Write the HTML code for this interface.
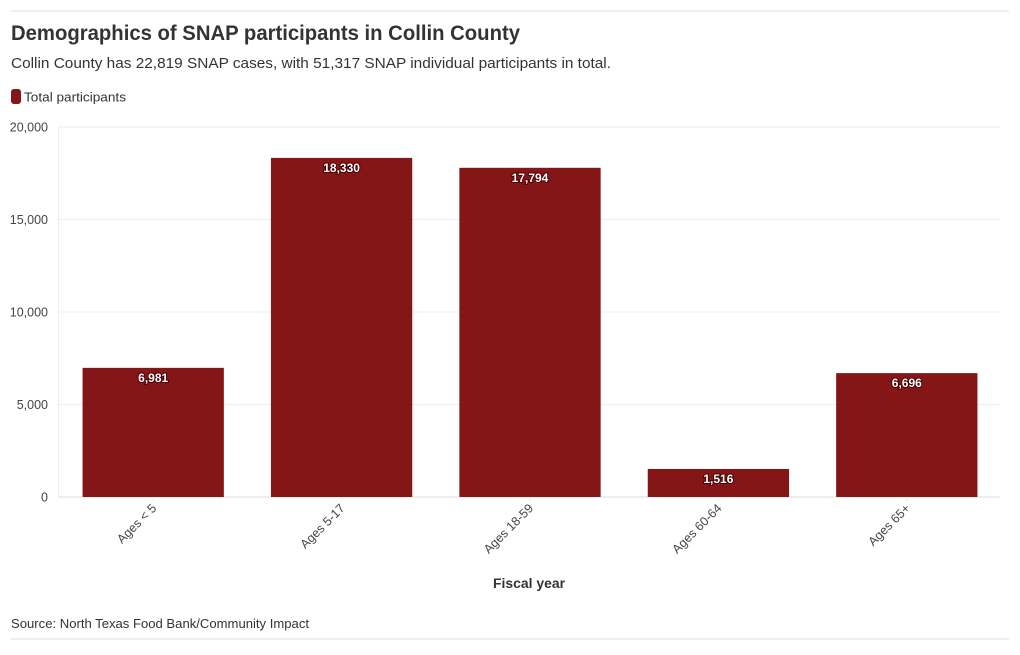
<!DOCTYPE html>
<html><head><meta charset="utf-8"><style>
html,body{margin:0;padding:0;background:#fff;}
svg text{font-family:"Liberation Sans",sans-serif;}
</style></head><body>
<svg width="1020" height="650" viewBox="0 0 1020 650">
<line x1="11" y1="11" x2="1009" y2="11" stroke="#ddd"/>
<text x="11" y="40" font-size="21" font-weight="bold" fill="#333" textLength="509" lengthAdjust="spacingAndGlyphs">Demographics of SNAP participants in Collin County</text>
<text x="11" y="68" font-size="15" fill="#333" textLength="600" lengthAdjust="spacingAndGlyphs">Collin County has 22,819 SNAP cases, with 51,317 SNAP individual participants in total.</text>
<g>
<rect x="11" y="89" width="10" height="15" rx="3" fill="#841617"/>
<text x="24" y="101.5" font-size="13" fill="#333" textLength="102" lengthAdjust="spacingAndGlyphs">Total participants</text>
</g>
<g id="grid"></g>
<g id="bars"></g>
<g id="xlabels"></g>
<text x="529" y="588" font-size="14" font-weight="bold" fill="#333" text-anchor="middle" textLength="72" lengthAdjust="spacingAndGlyphs">Fiscal year</text>
<text x="11" y="628" font-size="13" fill="#333" textLength="298" lengthAdjust="spacingAndGlyphs">Source: North Texas Food Bank/Community Impact</text>
<line x1="11" y1="639" x2="1009" y2="639" stroke="#ddd"/>
</svg>
<script>
const categories = ["Ages < 5","Ages 5-17","Ages 18-59","Ages 60-64","Ages 65+"];
const values = [6981, 18330, 17794, 1516, 6696];
const yTicks = [0, 5000, 10000, 15000, 20000];
const yTickLabels = ["0","5,000","10,000","15,000","20,000"];

const NS = "http://www.w3.org/2000/svg";
const X0 = 58, X1 = 1000, Y0 = 497, Y1 = 127, YMAX = 20000;
const band = (X1 - X0) / categories.length;
const pad = 0.25;
function y(v){ return Y0 - (v / YMAX) * (Y0 - Y1); }
function x(i){ return X0 + i * band; }
function mk(tag, attrs, parent){ const e = document.createElementNS(NS, tag); for (const k in attrs) e.setAttribute(k, attrs[k]); parent.appendChild(e); return e; }

const grid = document.getElementById("grid");
yTicks.forEach((t, i) => {
  const l = mk("line", {x1: X0, x2: X1, y1: y(t), y2: y(t), stroke: i === 0 ? "#ddd" : "#eee"}, grid);
  
  
  const tx = mk("text", {x: 48, y: y(t) + 4.5, "font-size": 12.5, fill: "#444", "text-anchor": "end"}, grid);
  tx.textContent = yTickLabels[i];
  
  
});
const ax = mk("line", {x1: X0 + 0.5, x2: X0 + 0.5, y1: Y1, y2: Y0, stroke: "#eee"}, grid);



const bars = document.getElementById("bars");
const xl = document.getElementById("xlabels");
values.forEach((v, i) => {
  const bx = x(i) + band * pad / 2 + 1, bw = band * (1 - pad);
  const r = mk("rect", {x: bx, y: y(v), width: bw, height: Y0 - y(v), fill: "#841617"}, bars);
  
  
  const cx = bx + bw / 2;
  const lb = mk("text", {x: cx, y: y(v) + 14, "font-size": 12, "font-weight": "bold", fill: "#fff", "text-anchor": "middle", stroke: "#4a0000", "stroke-width": 2, "paint-order": "stroke"}, bars);
  lb.textContent = v.toLocaleString("en-US");
  
  
  const tk = mk("line", {x1: cx, x2: cx, y1: Y0, y2: Y0 + 5, stroke: "#eee"}, xl);
  
  
  const t = mk("text", {x: cx + 4, y: Y0 + 12, "font-size": 12.5, fill: "#444", "text-anchor": "end", transform: "rotate(-45 " + (cx + 4) + " " + (Y0 + 12) + ")"}, xl);
  t.textContent = categories[i];
  
  
});
</script>
</body></html>
